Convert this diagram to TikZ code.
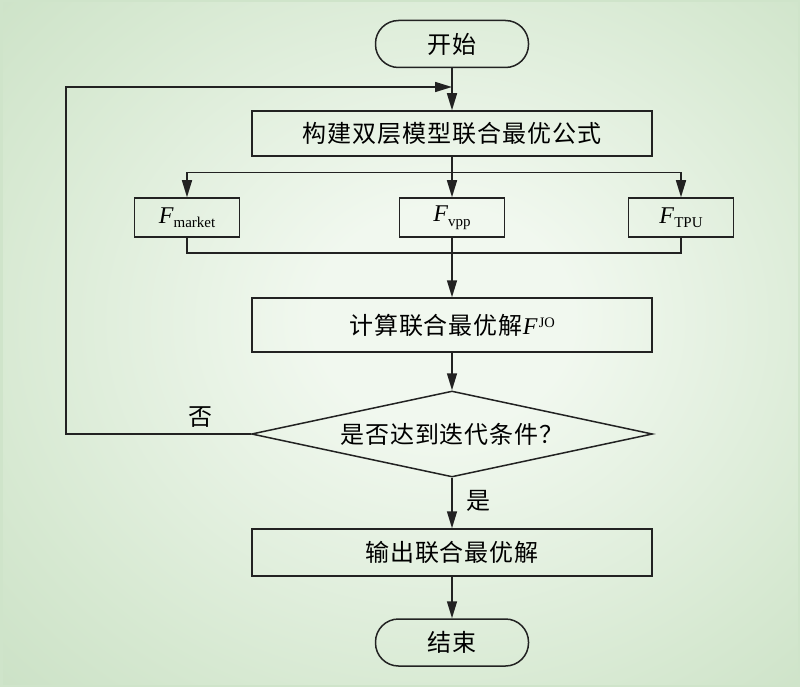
\documentclass[tikz,border=0pt]{standalone}
\usepackage{fontspec}
\setmainfont{Liberation Serif}
\newfontfamily\cjk{Noto Sans CJK SC}[LetterSpace=4]
\usetikzlibrary{arrows.meta,shapes.geometric,calc}
\definecolor{bgin}{HTML}{F1F8EF}
\definecolor{bgmid}{HTML}{D7E9D2}
\definecolor{bgout}{HTML}{BDD8B7}
\definecolor{bgcorner}{HTML}{B3D1AD}
\definecolor{bgedge}{HTML}{CFE4CA}
\definecolor{ink}{HTML}{222222}
\pgfdeclareradialshading{bgshade}{\pgfpoint{3bp}{2bp}}{color(0bp)=(bgin); color(8bp)=(bgin); color(28bp)=(bgmid); color(50bp)=(bgout); color(70bp)=(bgcorner); color(90bp)=(bgcorner)}
\newcommand{\cjkfs}{\cjk\fontsize{24}{28}\selectfont}
\tikzset{
  ln/.style={draw=ink, line width=1.5pt},
  arr/.style={ln, -{Triangle[length=17pt,width=10pt]}},
  procbox/.style={ln, rectangle, minimum width=400pt, inner sep=0pt, font=\cjkfs},
  termbox/.style={ln, rectangle, rounded corners=23pt, minimum width=153pt, minimum height=47pt, inner sep=0pt, font=\cjkfs},
  fbox/.style={ln, rectangle, minimum width=105pt, minimum height=39pt, inner sep=0pt, font=\fontsize{24}{28}\selectfont},
  decbox/.style={ln, diamond, aspect=4.7, minimum width=401pt, minimum height=86pt, inner sep=0pt, font=\cjkfs},
  lbl/.style={font=\cjkfs, inner sep=0pt}
}
\begin{document}
\begin{tikzpicture}[x=1pt,y=-1pt]
\useasboundingbox (0,0) rectangle (800,687);
\shade[shading=bgshade] (0,0) rectangle (800,687);
\draw[bgedge, line width=2.5pt] (1.25,1.25) rectangle (798.75,685.75);

\node[termbox] (start) at (452,44) {开始};
\node[procbox, minimum height=45pt] (b1) at (452,133.5) {构建双层模型联合最优公式};
\node[fbox] (fm) at (187,217.5) {\textit{F}\raisebox{-4.5pt}{\fontsize{15}{18}\selectfont market}};
\node[fbox] (fv) at (452,217.5) {\textit{F}\raisebox{-4.5pt}{\fontsize{15}{18}\selectfont vpp}};
\node[fbox] (ft) at (681,217.5) {\textit{F}\raisebox{-4.5pt}{\fontsize{15}{18}\selectfont TPU}};
\node[procbox, minimum height=54pt] (b2) at (452,325) {计算联合最优解{\fontsize{24}{28}\selectfont\rmfamily\textit{F}\kern1pt\raisebox{7pt}{\fontsize{14.5}{16}\selectfont JO}}};
\node[decbox] (dia) at (452,434) {是否达到迭代条件？};
\node[procbox, minimum height=47pt] (b3) at (452,552.5) {输出联合最优解};
\node[termbox] (stop) at (452,642.5) {结束};

\coordinate (lp) at (66,87);
\coordinate (br) at (452,172.5);
\coordinate (jn) at (452,253);

\node[lbl] (no) at (200,417) {否};
\node[lbl] (yes) at (478,501) {是};

\draw[arr] (start) -- (b1);
\draw[arr] (dia.west) -| (lp) -- (start.south |- lp);
\draw[ln] (b1) -- (br);
\draw[arr] (br) -| (fm);
\draw[arr] (br) -| (ft);
\draw[arr] (br) -- (fv);
\draw[ln] (fm) |- (jn);
\draw[ln] (ft) |- (jn);
\draw[ln] (fv) -- (jn);
\draw[arr] (jn) -- (b2);
\draw[arr] (b2) -- (dia);
\draw[arr] (dia) -- (b3);
\draw[arr] (b3) -- (stop);
\end{tikzpicture}
\end{document}
